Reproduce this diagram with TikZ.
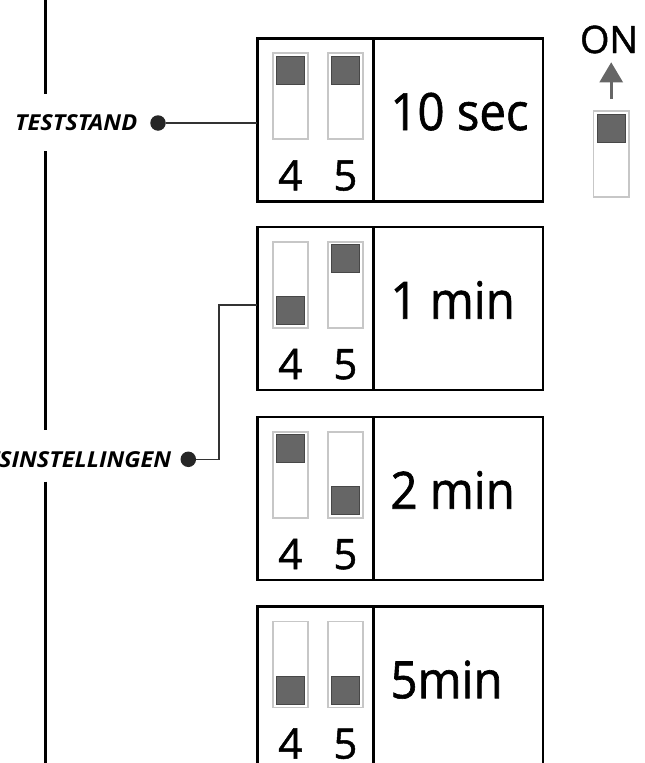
\documentclass[tikz,border=0pt]{standalone}
\usepackage{fontspec}
\setmainfont[FakeBold=1.2]{Open Sans}
\newfontfamily\narrowfont[FakeStretch=0.92, FakeBold=1.2]{Open Sans}
\newfontfamily\tagfont[FakeStretch=1.07]{Open Sans}
\usetikzlibrary{positioning,arrows.meta}
\definecolor{knobgray}{HTML}{666666}
\tikzset{
  panel/.style = {draw=black, line width=2.8pt, inner sep=0pt, outer sep=0pt, minimum height=163pt},
  slot/.style = {draw=black!22, line width=1.8pt, fill=white, minimum width=35.5pt, minimum height=86pt, inner sep=0pt},
  knob/.style = {draw=black!72, line width=0.9pt, fill=knobgray, minimum width=28.5pt, minimum height=28pt, inner sep=0pt},
  digit/.style = {font=\fontsize{42}{42}\selectfont, inner sep=0pt, anchor=base},
  timetext/.style = {font=\narrowfont\fontsize{51.4}{51.4}\selectfont, inner sep=0pt, anchor=base west},
  tag/.style = {font=\tagfont\bfseries\itshape\fontsize{22}{22}\selectfont, inner sep=0pt},
  pin/.style = {circle, fill=black!85, minimum size=15.5pt, inner sep=0pt},
  lead/.style = {draw=black!80, line width=1.3pt},
  rail/.style = {draw=black, line width=2.5pt}
}

\begin{document}
\begin{tikzpicture}[x=1pt, y=-1pt]
  \useasboundingbox (0,0) rectangle (645,763);
  % dip switch settings
  \foreach \top/\ka/\kb/\t [count=\i] in {38.3/26/26/10 sec, 227/-26/26/1 min, 417/26/-26/2 min, 606.5/-26/-26/5min}{
    \node [panel, minimum width=116pt, anchor=north west] (sw\i) at (257.3,\top) {};
    \node [panel, minimum width=169.7pt, right=0pt of sw\i] (tm\i) {};
    \node [slot, below right=14pt and 14.4pt of sw\i.north west] (sa\i) {};
    \node [slot, right=17.7pt of sa\i] (sb\i) {};
    \node [knob] (ka\i) at ([yshift=\ka pt]sa\i.center) {};
    \node [knob] (kb\i) at ([yshift=\kb pt]sb\i.center) {};
    \node [digit] (da\i) at ([yshift=-94.2pt]sa\i.center) {4};
    \node [digit] (db\i) at ([yshift=-94.2pt]sb\i.center) {5};
    \node [timetext] (lb\i) at ([xshift=17pt, yshift=-91.7pt]tm\i.north west) {\t};
  }
  % legend
  \node [slot] (ls) at (611.2,153.7) {};
  \node [knob] (lk) at ([yshift=25.2pt]ls.center) {};
  \node [font=\fontsize{37.8}{37.8}\selectfont, inner sep=0pt, anchor=base] (on) at (609,53) {ON};
  \draw [draw=knobgray, line width=2.6pt, -{Triangle[width=23pt, length=20pt]}, shorten <=10.7pt, shorten >=8.7pt]
    (ls.north) -- (ls.north |- on.south);
  % labels
  \node [pin] (p1) at (158,123) {};
  \node [tag, left=12.7pt of p1] (t1) {TESTSTAND};
  \draw [lead] (p1) -- (p1 -| sw1.west);
  \node [pin] (p2) at (188.3,459.3) {};
  \node [tag, left=9pt of p2] (t2) {TSINSTELLINGEN};
  \coordinate (elbow) at (219,305);
  \draw [lead] (p2) -| (elbow) -- (elbow -| sw2.west);
  % rail
  \coordinate (railtop) at (45.7,0);
  \coordinate (railbot) at (45.7,763);
  \draw [rail, shorten >=21pt] (railtop) -- (railtop |- t1.north);
  \draw [rail, shorten <=20pt, shorten >=20.7pt] (railtop |- t1.south) -- (railtop |- t2.north);
  \draw [rail, shorten <=14pt] (railtop |- t2.south) -- (railbot);
\end{tikzpicture}
\end{document}
